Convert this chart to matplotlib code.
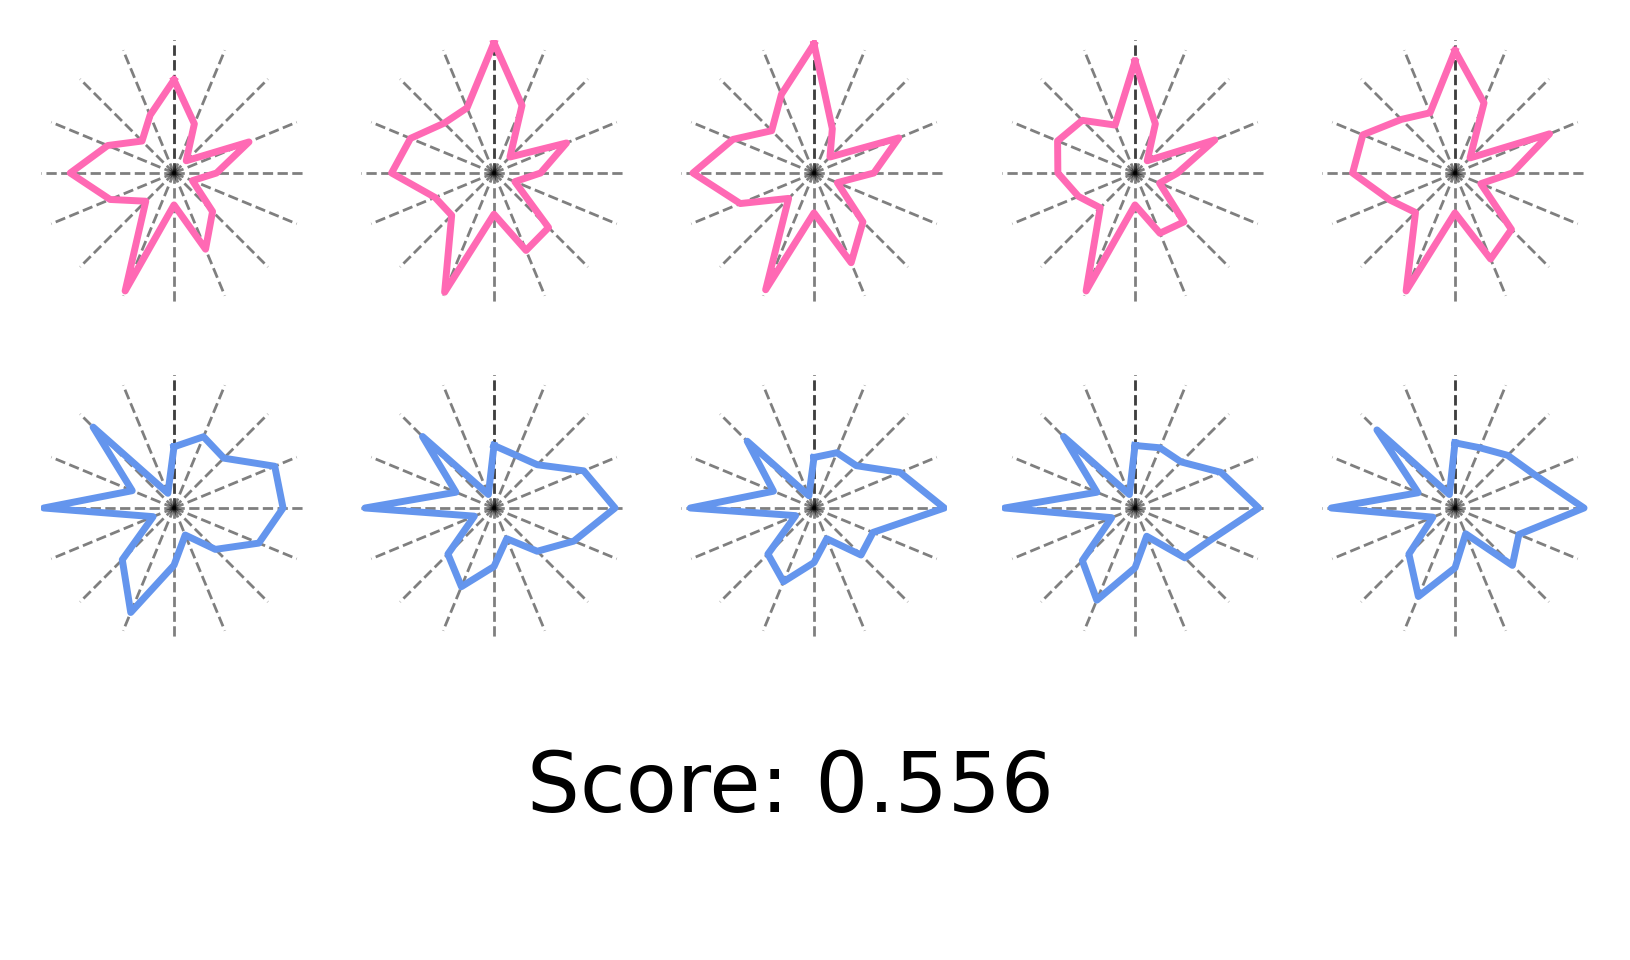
import numpy as np
import matplotlib
matplotlib.use("Agg")
import matplotlib.pyplot as plt

# radii on 16 spokes, clockwise from the top
pink_1 = [0.70, 0.40, 0.13, 0.61, 0.32, 0.15, 0.41, 0.62, 0.24, 0.96, 0.30, 0.52, 0.78, 0.54, 0.34, 0.47]
pink_2 = [0.98, 0.55, 0.17, 0.59, 0.35, 0.17, 0.58, 0.63, 0.31, 0.97, 0.45, 0.48, 0.77, 0.68, 0.53, 0.53]
pink_3 = [0.97, 0.36, 0.17, 0.69, 0.45, 0.19, 0.52, 0.73, 0.30, 0.95, 0.27, 0.60, 0.91, 0.66, 0.45, 0.64]
pink_4 = [0.84, 0.40, 0.13, 0.65, 0.32, 0.20, 0.52, 0.49, 0.24, 0.96, 0.37, 0.46, 0.58, 0.63, 0.56, 0.39]
pink_5 = [0.92, 0.57, 0.16, 0.77, 0.43, 0.21, 0.60, 0.70, 0.30, 0.96, 0.42, 0.53, 0.77, 0.75, 0.57, 0.49]

blue_1 = [0.46, 0.58, 0.53, 0.82, 0.82, 0.69, 0.44, 0.22, 0.43, 0.85, 0.55, 0.17, 0.98, 0.34, 0.86, 0.12]
blue_2 = [0.47, 0.43, 0.46, 0.73, 0.91, 0.65, 0.46, 0.25, 0.44, 0.64, 0.49, 0.16, 0.97, 0.31, 0.76, 0.11]
blue_3 = [0.38, 0.45, 0.45, 0.70, 0.98, 0.48, 0.50, 0.25, 0.41, 0.60, 0.49, 0.15, 0.93, 0.33, 0.71, 0.10]
blue_4 = [0.47, 0.49, 0.49, 0.70, 0.93, 0.62, 0.53, 0.23, 0.45, 0.75, 0.56, 0.19, 0.98, 0.31, 0.76, 0.11]
blue_5 = [0.49, 0.49, 0.56, 0.65, 0.97, 0.52, 0.61, 0.21, 0.45, 0.72, 0.49, 0.18, 0.93, 0.30, 0.83, 0.11]

top_row = [pink_1, pink_2, pink_3, pink_4, pink_5]
bottom_row = [blue_1, blue_2, blue_3, blue_4, blue_5]
score = 0.556

W, H = 1630, 960
fig = plt.figure(figsize=(W / 100, H / 100), dpi=100)

angles = np.linspace(0, 2 * np.pi, 17)
centers_x = [174, 494, 814, 1135, 1455]
centers_y = [173, 508]
R = 133


def radar(cx, cy, vals, color):
    ax = fig.add_axes([(cx - R) / W, 1 - (cy + R) / H, 2 * R / W, 2 * R / H], projection='polar')
    ax.set_theta_zero_location('N')
    ax.set_theta_direction(-1)
    for a in angles:
        ax.plot([a, a], [0, 1], '--', color='k', alpha=0.5, lw=2)
    r = list(vals) + [vals[0]]
    ax.plot(angles, r, color=color, lw=5)
    ax.set_ylim(0, 1)
    ax.set_axis_off()


for cx, vals in zip(centers_x, top_row):
    radar(cx, centers_y[0], vals, 'hotpink')
for cx, vals in zip(centers_x, bottom_row):
    radar(cx, centers_y[1], vals, 'cornflowerblue')

fig.text(790 / W, 1 - 812 / H, f'Score: {score}', ha='center', va='baseline', fontsize=60)

fig.savefig('out.png', dpi=100)
